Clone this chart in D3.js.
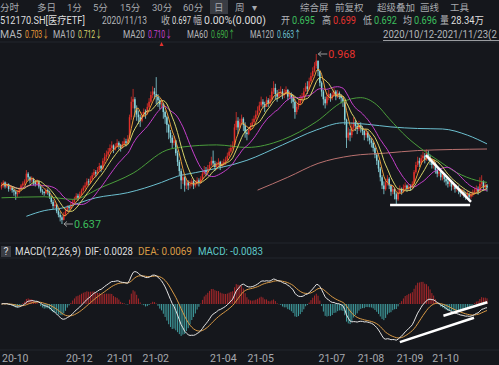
<meta charset="utf-8">
<script src="https://cdn.jsdelivr.net/npm/d3@7"></script>
<style>
  body { margin: 0; background: #15171c; }
  text { font-family: Roboto, "Noto Sans CJK SC", sans-serif; font-size: 10.5px; }
</style>
<div id="chart"></div>
<script>
// month blocks (trading days per month, 2020/10/12 .. 2021/11/23)
var months = ["20-10","20-11","20-12","21-01","21-02","21-03","21-04","21-05","21-06","21-07","21-08","21-09","21-10","21-11"];
var monthDays = [15,21,23,20,15,23,21,19,21,22,22,20,16,16];
var shownMonths = ["20-10","20-12","21-01","21-02","21-04","21-05","21-07","21-08","21-09","21-10"];

// daily closes
var closes = [
  0.712,0.718,0.710,0.715,0.705,0.708,0.703,0.700,0.695,0.698,0.705,0.712,0.716,0.720,0.735,
  0.728,0.722,0.725,0.718,0.715,0.720,0.710,0.702,0.700,0.697,0.703,0.700,0.690,0.680,0.672,0.675,0.662,0.655,0.650,0.645,0.655,
  0.662,0.670,0.668,0.675,0.680,0.685,0.692,0.688,0.695,0.702,0.708,0.712,0.720,0.718,0.725,0.732,0.738,0.735,0.742,0.750,0.745,0.760,0.768,
  0.772,0.778,0.785,0.790,0.782,0.788,0.795,0.790,0.785,0.792,0.798,0.795,0.802,0.845,0.875,0.880,0.862,0.850,0.845,0.838,
  0.848,0.855,0.852,0.865,0.875,0.888,0.895,0.890,0.885,0.878,0.870,0.872,0.855,0.845,0.830,
  0.815,0.805,0.795,0.800,0.775,0.758,0.740,0.722,0.728,0.712,0.718,0.712,0.715,0.720,0.712,0.716,0.722,0.718,0.725,0.735,0.742,0.738,0.745,
  0.752,0.760,0.755,0.748,0.752,0.758,0.750,0.755,0.758,0.762,0.770,0.778,0.785,0.790,0.825,0.838,0.825,0.835,0.842,0.830,0.815,
  0.812,0.820,0.828,0.835,0.842,0.850,0.858,0.868,0.875,0.870,0.865,0.878,0.872,0.880,0.895,0.902,0.890,0.885,0.892,
  0.895,0.888,0.892,0.898,0.885,0.890,0.882,0.875,0.855,0.865,0.872,0.880,0.885,0.895,0.905,0.900,0.915,0.925,0.935,0.945,0.955,
  0.935,0.912,0.895,0.880,0.872,0.885,0.890,0.882,0.888,0.895,0.885,0.892,0.888,0.882,0.875,0.840,0.805,0.815,0.810,0.825,0.835,0.828,
  0.822,0.830,0.825,0.818,0.810,0.815,0.805,0.800,0.795,0.785,0.772,0.760,0.745,0.728,0.712,0.705,0.718,0.725,0.712,0.700,0.705,0.695,
  0.685,0.698,0.705,0.700,0.708,0.712,0.705,0.710,0.708,0.715,0.738,0.752,0.760,0.755,0.765,0.770,0.762,0.775,0.768,0.760,
  0.752,0.755,0.742,0.735,0.738,0.728,0.732,0.725,0.720,0.715,0.718,0.710,0.712,0.705,0.708,0.702,
  0.698,0.700,0.695,0.692,0.696,0.690,0.694,0.698,0.702,0.705,0.700,0.715,0.720,0.708,0.712,0.708
];
var highs = [
  0.718,0.722,0.720,0.718,0.716,0.712,0.710,0.706,0.702,0.703,0.708,0.715,0.720,0.724,0.742,
  0.738,0.730,0.730,0.727,0.722,0.724,0.721,0.712,0.705,0.699,0.707,0.706,0.702,0.692,0.684,0.682,0.676,0.666,0.660,0.654,0.660,
  0.668,0.674,0.674,0.680,0.685,0.690,0.697,0.696,0.700,0.706,0.712,0.718,0.726,0.725,0.730,0.737,0.744,0.742,0.748,0.756,0.752,0.765,0.775,
  0.780,0.785,0.792,0.798,0.792,0.794,0.802,0.798,0.793,0.798,0.805,0.803,0.810,0.850,0.885,0.900,0.884,0.868,0.858,0.850,
  0.855,0.862,0.860,0.872,0.882,0.895,0.905,0.902,0.923,0.890,0.882,0.880,0.870,0.858,0.848,
  0.832,0.820,0.810,0.808,0.800,0.780,0.762,0.745,0.735,0.730,0.725,0.722,0.722,0.726,0.724,0.722,0.728,0.726,0.730,0.740,0.750,0.748,0.752,
  0.758,0.768,0.780,0.760,0.758,0.765,0.760,0.760,0.764,0.768,0.776,0.785,0.792,0.798,0.832,0.855,0.845,0.842,0.850,0.845,0.835,
  0.822,0.826,0.834,0.842,0.848,0.858,0.866,0.875,0.885,0.880,0.875,0.885,0.882,0.888,0.902,0.915,0.910,0.898,0.900,
  0.905,0.900,0.900,0.905,0.900,0.896,0.893,0.888,0.880,0.872,0.880,0.888,0.892,0.902,0.912,0.915,0.922,0.932,0.942,0.952,0.968,
  0.955,0.935,0.915,0.898,0.885,0.892,0.898,0.892,0.895,0.902,0.898,0.898,0.895,0.890,0.885,0.872,0.842,0.825,0.822,0.835,0.845,0.840,
  0.832,0.838,0.835,0.828,0.820,0.822,0.818,0.810,0.805,0.798,0.788,0.775,0.762,0.748,0.732,0.720,0.725,0.732,0.728,0.715,0.712,0.708,
  0.698,0.705,0.712,0.708,0.714,0.718,0.714,0.715,0.714,0.720,0.742,0.758,0.768,0.766,0.772,0.778,0.775,0.782,0.780,0.772,
  0.765,0.762,0.758,0.745,0.745,0.740,0.738,0.735,0.728,0.725,0.724,0.720,0.718,0.715,0.714,0.712,
  0.705,0.706,0.704,0.700,0.702,0.698,0.700,0.704,0.708,0.712,0.710,0.728,0.732,0.722,0.718,0.715
];
var lows = [
  0.704,0.708,0.706,0.707,0.700,0.702,0.698,0.692,0.684,0.690,0.696,0.703,0.709,0.713,0.718,
  0.722,0.716,0.718,0.712,0.710,0.712,0.706,0.698,0.694,0.692,0.695,0.694,0.686,0.676,0.666,0.668,0.658,0.650,0.642,0.637,0.644,
  0.652,0.660,0.662,0.666,0.672,0.678,0.684,0.682,0.686,0.692,0.700,0.704,0.710,0.712,0.715,0.722,0.728,0.728,0.732,0.740,0.738,0.742,0.755,
  0.762,0.768,0.775,0.780,0.775,0.780,0.786,0.782,0.778,0.784,0.790,0.788,0.794,0.805,0.840,0.862,0.845,0.838,0.832,0.826,
  0.835,0.845,0.842,0.850,0.862,0.872,0.882,0.880,0.870,0.865,0.860,0.862,0.842,0.832,0.815,
  0.802,0.795,0.785,0.790,0.770,0.750,0.732,0.705,0.715,0.700,0.705,0.703,0.706,0.710,0.705,0.708,0.712,0.710,0.715,0.722,0.732,0.730,0.735,
  0.742,0.750,0.748,0.740,0.742,0.748,0.742,0.746,0.750,0.752,0.760,0.768,0.775,0.782,0.792,0.820,0.812,0.822,0.830,0.818,0.805,
  0.800,0.810,0.818,0.826,0.832,0.840,0.848,0.856,0.865,0.862,0.855,0.865,0.865,0.870,0.878,0.890,0.880,0.875,0.882,
  0.885,0.880,0.882,0.888,0.878,0.880,0.872,0.862,0.842,0.850,0.860,0.868,0.875,0.882,0.895,0.890,0.898,0.912,0.922,0.932,0.940,
  0.925,0.905,0.885,0.868,0.862,0.868,0.878,0.875,0.878,0.885,0.878,0.882,0.880,0.872,0.865,0.830,0.785,0.800,0.798,0.805,0.820,0.818,
  0.812,0.818,0.815,0.810,0.800,0.805,0.798,0.792,0.786,0.778,0.765,0.752,0.738,0.720,0.705,0.695,0.702,0.712,0.705,0.692,0.695,0.685,
  0.676,0.682,0.695,0.694,0.698,0.704,0.700,0.702,0.702,0.706,0.715,0.735,0.748,0.748,0.752,0.758,0.755,0.760,0.760,0.752,
  0.745,0.745,0.735,0.728,0.730,0.722,0.722,0.718,0.712,0.708,0.710,0.702,0.704,0.698,0.700,0.695,
  0.690,0.692,0.688,0.684,0.688,0.684,0.686,0.690,0.694,0.698,0.694,0.698,0.710,0.702,0.702,0.700
];
var firstOpen = 0.708;

// long averages as [day index, value]
var ma60Pts = [[0,0.688],[24,0.690],[40,0.685],[56,0.708],[74,0.736],[93,0.781],[102,0.787],[121,0.791],[138,0.786],[158,0.801],[177,0.836],[192,0.875],[202,0.883],[211,0.869],[218,0.842],[228,0.806],[237,0.781],[245,0.762],[256,0.737],[267,0.722],[273,0.718]];
var ma120Pts = [[14,0.652],[24,0.663],[34,0.668],[53,0.688],[71,0.698],[90,0.718],[99,0.730],[109,0.737],[138,0.761],[158,0.791],[177,0.820],[192,0.834],[206,0.831],[219,0.826],[234,0.823],[248,0.822],[262,0.810],[273,0.793]];
var ma250Pts = [[144,0.703],[161,0.728],[178,0.755],[197,0.770],[216,0.775],[234,0.780],[273,0.783]];

// hand-drawn trend lines on the chart
var priceMarks = [[[218.5,0.674],[263.5,0.674]], [[238.6,0.771],[264,0.680]]];
var macdMarks = [[[224,-0.040],[265.7,-0.0144]], [[248.5,-0.0123],[273.2,0.0018]]];

var W = 499, H = 365;
var n = closes.length;
var opens = closes.map(function(c, i) { return i === 0 ? firstOpen : closes[i - 1]; });

var svg = d3.select("#chart").append("svg").attr("width", W).attr("height", H);
svg.append("rect").attr("width", W).attr("height", H).attr("fill", "#15171c");

var x = d3.scaleLinear().domain([0, n - 1]).range([1.5, 487]);
var y = d3.scaleLinear().domain([0.637, 0.968]).range([224, 54]);
var ym = d3.scaleLinear().domain([-0.044, 0.044]).range([346, 262]);

// faint panel lines
[42, 243, 258, 350].forEach(function(v) {
  svg.append("line").attr("x1", 0).attr("x2", W).attr("y1", v).attr("y2", v)
    .attr("stroke", "#23262d").attr("stroke-width", 1);
});

// text helper; w = width the text takes in the reference (squeezed horizontally to fit)
function label(txt, xx, yy, col, w, fs) {
  var t = svg.append("text").attr("fill", col).text(txt);
  if (fs) t.style("font-size", fs + "px");
  var nat = t.node().getComputedTextLength();
  var sx = (w && nat > w) ? w / nat : 1;
  t.attr("transform", "translate(" + xx + "," + yy + ") scale(" + sx + ",1)");
  return t;
}

// header row 1: period tabs
svg.append("rect").attr("x", 210).attr("y", 0).attr("width", 18).attr("height", 14).attr("fill", "#3a3d44");
var tabs = [["分时",0],["多日",37],["1分",67],["5分",93],["15分",120],["30分",152],["60分",183],["日",214],["周",235],["▾",252],
            ["综合屏",300],["前复权",335],["超级叠加",377],["画线",420],["工具",450]];
tabs.forEach(function(t) { label(t[0], t[1], 11, "#a7a9ae", null, 9.5); });

var gray = "#b4b6ba", white = "#dedede", green = "#3cbf5c", red = "#e5322d";
// header row 2: quote for the cursor day
label("512170.SH[医疗ETF]", 0, 24, white, 85);
label("2020/11/13", 102, 24, gray, 45);
label("收", 161, 24, gray, 9); label("0.697", 172, 24, white, 19);
label("幅", 193, 24, gray, 9); label("0.00%(0.000)", 204, 24, white, 62);
label("开", 281, 24, gray, 9); label("0.695", 292, 24, green, 23);
label("高", 322, 24, gray, 9); label("0.699", 333, 24, red, 23);
label("低", 363, 24, gray, 9); label("0.692", 374, 24, green, 23);
label("均", 403, 24, gray, 9); label("0.696", 414, 24, green, 23);
label("量", 440, 24, gray, 9); label("28.34万", 451, 24, white, 33);

// header row 3: moving average legend
var maCol = {ma5: "#e89c3a", ma10: "#d8d46a", ma20: "#c63fcc", ma60: "#4a9d3b", ma120: "#6cc0d0", ma250: "#b9716f"};
function legend(name, xn, wn, val, col) {
  label(name, xn, 38, gray, wn);
  label(val, xn + wn + 3, 38, col, 24);
}
legend("MA5", 0, 22, "0.703↓", maCol.ma5);
legend("MA10", 53, 22, "0.712↓", maCol.ma10);
legend("MA20", 123, 22, "0.710↓", maCol.ma20);
legend("MA60", 187, 21, "0.690↑", "#3fae45");
legend("MA120", 250, 24, "0.663↑", maCol.ma120);
label("2020/10/12-2021/11/23(2", 383, 38, gray, 114);
svg.append("line").attr("x1", 383).attr("x2", W).attr("y1", 40.5).attr("y2", 40.5).attr("stroke", "#9a9ca0");

// candles
var up = "#e0302a", down = "#8ad6de";
var cg = svg.append("g");
closes.forEach(function(c, i) {
  var o = opens[i];
  var hi = Math.max(highs[i], o, c), lo = Math.min(lows[i], o, c);
  var col = c >= o ? up : down;
  cg.append("line").attr("x1", x(i)).attr("x2", x(i)).attr("y1", y(hi)).attr("y2", y(lo))
    .attr("stroke", col).attr("stroke-width", 0.8);
  var top = y(Math.max(o, c)), h = Math.max(1, Math.abs(y(o) - y(c)));
  cg.append("rect").attr("x", x(i) - 0.75).attr("y", top).attr("width", 1.5).attr("height", h).attr("fill", col);
});

// moving averages
function ma(k) {
  return closes.map(function(c, i) { return d3.mean(closes.slice(Math.max(0, i - k + 1), i + 1)); });
}
var line = d3.line().x(function(d, i) { return x(i); }).y(function(d) { return y(d); });
var ptLine = d3.line().x(function(d) { return x(d[0]); }).y(function(d) { return y(d[1]); }).curve(d3.curveMonotoneX);
[[ma250Pts, maCol.ma250], [ma120Pts, maCol.ma120], [ma60Pts, maCol.ma60]].forEach(function(p) {
  svg.append("path").attr("d", ptLine(p[0])).attr("fill", "none").attr("stroke", p[1]).attr("stroke-width", 1);
});
[[20, maCol.ma20], [10, maCol.ma10], [5, maCol.ma5]].forEach(function(p) {
  svg.append("path").attr("d", line(ma(p[0]))).attr("fill", "none").attr("stroke", p[1]).attr("stroke-width", 1);
});

// high / low markers
function marker(i, v, col) {
  var xx = x(i) + 2, yy = y(v);
  svg.append("path").attr("d", "M" + xx + "," + yy + "l3,-2.5M" + xx + "," + yy + "l3,2.5M" + xx + "," + yy + "h9")
    .attr("stroke", "#9a9a9a").attr("fill", "none");
  label(v.toFixed(3), xx + 10, yy + 4, col, 27, 11);
}
var iMax = d3.maxIndex(highs), iMin = d3.minIndex(lows);
marker(iMax, highs[iMax], red);
marker(iMin, lows[iMin], green);
svg.append("path").attr("d", "M" + x(90) + ",42l-2,4h4z").attr("fill", red);

// trend lines on price
var mline = d3.line().x(function(d) { return x(d[0]); }).y(function(d) { return y(d[1]); });
priceMarks.forEach(function(m) {
  svg.append("path").attr("d", mline(m)).attr("stroke", "#fff").attr("stroke-width", 2.5).attr("fill", "none");
});

// MACD(12,26,9)
function ema(arr, k) {
  var a = 2 / (k + 1), prev = arr[0];
  return arr.map(function(v, i) { prev = i === 0 ? v : v * a + prev * (1 - a); return prev; });
}
var e12 = ema(closes, 12), e26 = ema(closes, 26);
var dif = closes.map(function(c, i) { return e12[i] - e26[i]; });
var dea = ema(dif, 9);
var bar = dif.map(function(d, i) { return 2 * (d - dea[i]); });

svg.selectAll(".hist").data(bar).enter().append("line")
  .attr("x1", function(d, i) { return x(i); }).attr("x2", function(d, i) { return x(i); })
  .attr("y1", ym(0)).attr("y2", function(d) { return ym(d); })
  .attr("stroke", function(d) { return d >= 0 ? "#a8272a" : "#3f9c9e"; })
  .attr("stroke-width", 1);
var mLine = d3.line().x(function(d, i) { return x(i); }).y(function(d) { return ym(d); });
svg.append("path").attr("d", mLine(dea)).attr("fill", "none").attr("stroke", "#d99a45").attr("stroke-width", 1);
svg.append("path").attr("d", mLine(dif)).attr("fill", "none").attr("stroke", "#e4e4e4").attr("stroke-width", 1);
var mmLine = d3.line().x(function(d) { return x(d[0]); }).y(function(d) { return ym(d[1]); });
macdMarks.forEach(function(m) {
  svg.append("path").attr("d", mmLine(m)).attr("stroke", "#fff").attr("stroke-width", 2.5).attr("fill", "none");
});

// MACD header
svg.append("rect").attr("x", 1).attr("y", 246).attr("width", 10).attr("height", 11).attr("fill", "#3a3d44");
label("?", 3.5, 255, white);
label("MACD(12,26,9)", 15, 255, white, 66);
label("DIF: 0.0028", 85, 255, white, 48);
label("DEA: 0.0069", 138, 255, "#d99a45", 54);
label("MACD: -0.0083", 198, 255, "#5ec8c8", 65);

// x axis: month starts
var starts = {}, acc = 0;
months.forEach(function(m, k) { starts[m] = acc; acc += monthDays[k]; });
var xAxis = svg.append("g").attr("transform", "translate(0,350)")
  .call(d3.axisBottom(x).tickValues(shownMonths.map(function(m) { return starts[m]; }))
    .tickFormat(function(d) { return shownMonths.find(function(m) { return starts[m] === d; }); }).tickSize(0));
xAxis.select(".domain").remove();
xAxis.selectAll("text").attr("text-anchor", "start").attr("dy", "0.9em").attr("fill", "#a7a9ae")
  .style("font-size", "10.5px");
</script>
